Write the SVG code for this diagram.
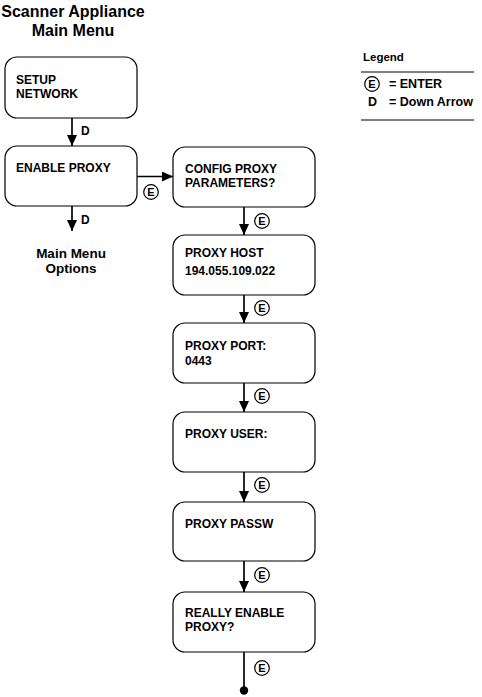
<svg xmlns="http://www.w3.org/2000/svg" width="482" height="697" viewBox="0 0 482 697">
<style>
text{font-family:"Liberation Sans",Arial,sans-serif;font-weight:bold;fill:#000}
.t{font-size:12px}
.title{font-size:16px;text-anchor:middle}
.sub{font-size:13.5px;text-anchor:middle}
.lg{font-size:12.5px}
.lgh{font-size:11.5px}
.box{fill:#fff;stroke:#000;stroke-width:1.2}
.ln{stroke:#000;stroke-width:1.7;fill:none}
.ec{fill:#fff;stroke:#000;stroke-width:1.2}
.et{font-size:11px;text-anchor:middle}
</style>
<defs>
<marker id="ah" viewBox="0 0 11 10" refX="11" refY="5" markerWidth="11" markerHeight="10" markerUnits="userSpaceOnUse" orient="auto">
<path d="M0,0 L11,5 L0,10 Z" fill="#000"/>
</marker>
<g id="E"><circle class="ec" r="7.3"/><text class="et" y="4">E</text></g>
</defs>
<rect width="482" height="697" fill="#fff"/>
<g id="title">
<text class="title" x="73" y="17">Scanner Appliance</text>
<text class="title" x="73" y="36">Main Menu</text>
</g>
<g id="connectors">
<line class="ln" x1="72" y1="118" x2="72" y2="146" marker-end="url(#ah)"/>
<text class="t" x="81" y="135">D</text>
<line class="ln" x1="72" y1="206" x2="72" y2="231" marker-end="url(#ah)"/>
<text class="t" x="81" y="224">D</text>
<line class="ln" x1="137" y1="176.5" x2="173" y2="176.5" marker-end="url(#ah)"/>
<use href="#E" x="151" y="192"/>
<line class="ln" x1="244" y1="207" x2="244" y2="235" marker-end="url(#ah)"/>
<use href="#E" x="262" y="221"/>
<line class="ln" x1="244" y1="295" x2="244" y2="323" marker-end="url(#ah)"/>
<use href="#E" x="262" y="308"/>
<line class="ln" x1="244" y1="383" x2="244" y2="412" marker-end="url(#ah)"/>
<use href="#E" x="262" y="396"/>
<line class="ln" x1="244" y1="472" x2="244" y2="502" marker-end="url(#ah)"/>
<use href="#E" x="262" y="485"/>
<line class="ln" x1="244" y1="561" x2="244" y2="592" marker-end="url(#ah)"/>
<use href="#E" x="262" y="575"/>
<line class="ln" x1="244" y1="652" x2="244" y2="690"/>
<circle cx="244" cy="690.5" r="4.2" fill="#000"/>
<use href="#E" x="262" y="668"/>
</g>
<g id="setup-network">
<rect class="box" x="5" y="57" width="132" height="61" rx="12"/>
<text class="t" x="16" y="84">SETUP</text>
<text class="t" x="16" y="98">NETWORK</text>
</g>
<g id="enable-proxy">
<rect class="box" x="5" y="146" width="132" height="60" rx="12"/>
<text class="t" x="16" y="172">ENABLE PROXY</text>
</g>
<g id="main-menu-options">
<text class="sub" x="71" y="258">Main Menu</text>
<text class="sub" x="71" y="273">Options</text>
</g>
<g id="config-proxy">
<rect class="box" x="173" y="147" width="142" height="60" rx="12"/>
<text class="t" x="185" y="173">CONFIG PROXY</text>
<text class="t" x="185" y="187">PARAMETERS?</text>
</g>
<g id="proxy-host">
<rect class="box" x="173" y="235" width="142" height="60" rx="12"/>
<text class="t" x="185" y="257">PROXY HOST</text>
<text class="t" x="185" y="275">194.055.109.022</text>
</g>
<g id="proxy-port">
<rect class="box" x="173" y="323" width="142" height="60" rx="12"/>
<text class="t" x="185" y="350">PROXY PORT:</text>
<text class="t" x="185" y="365">0443</text>
</g>
<g id="proxy-user">
<rect class="box" x="173" y="412" width="142" height="60" rx="12"/>
<text class="t" x="185" y="438">PROXY USER:</text>
</g>
<g id="proxy-passw">
<rect class="box" x="173" y="502" width="142" height="59" rx="12"/>
<text class="t" x="185" y="528">PROXY PASSW</text>
</g>
<g id="really-enable">
<rect class="box" x="173" y="592" width="142" height="60" rx="12"/>
<text class="t" x="185" y="617">REALLY ENABLE</text>
<text class="t" x="185" y="631">PROXY?</text>
</g>
<g id="legend">
<text class="lgh" x="363" y="61">Legend</text>
<line x1="361" y1="72" x2="474" y2="72" stroke="#000" stroke-width="1"/>
<use href="#E" x="372" y="84"/>
<text class="lg" x="389" y="88">= ENTER</text>
<text class="lg" x="368" y="106">D</text>
<text class="lg" x="389" y="106">= Down Arrow</text>
<line x1="361" y1="120" x2="474" y2="120" stroke="#000" stroke-width="1"/>
</g>
</svg>
